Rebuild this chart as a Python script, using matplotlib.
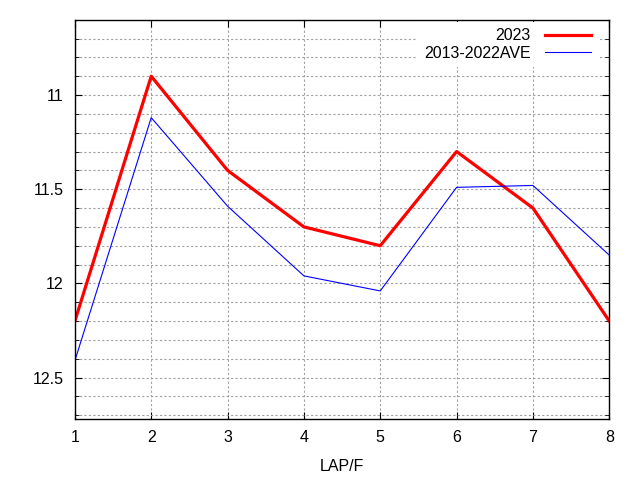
import matplotlib
matplotlib.use("Agg")
import matplotlib.pyplot as plt
from matplotlib.ticker import MultipleLocator

plt.rcParams['font.family'] = ['Liberation Sans', 'DejaVu Sans']

# lap data (seconds per furlong)
laps = [1, 2, 3, 4, 5, 6, 7, 8]
y2023 = [12.2, 10.9, 11.4, 11.7, 11.8, 11.3, 11.6, 12.2]
yave = [12.41, 11.12, 11.59, 11.96, 12.04, 11.49, 11.48, 11.85]

fig = plt.figure(figsize=(6.4, 4.8), dpi=100)
ax = fig.add_axes([0.117, 0.127, 0.835, 0.832])

ax.plot(laps, y2023, color='#ff0000', linewidth=2.3, label='2023')
ax.plot(laps, yave, color='#0000ff', linewidth=0.8, label='2013-2022AVE')

ax.set_xlim(1, 8)
ax.set_ylim(12.72, 10.6)
ax.xaxis.set_major_locator(MultipleLocator(1))
ax.yaxis.set_major_locator(MultipleLocator(0.5))
ax.yaxis.set_minor_locator(MultipleLocator(0.1))
ax.yaxis.set_major_formatter(plt.FuncFormatter(lambda v, p: '%g' % v))

ax.grid(True, which='both', axis='y', color='#a0a0a0', linestyle=(0, (2, 2)), linewidth=0.8)
ax.grid(True, which='major', axis='x', color='#a0a0a0', linestyle=(0, (2, 2)), linewidth=0.8)
ax.set_axisbelow(True)

ax.tick_params(which='both', direction='in', top=True, right=True, labelsize=11.5, pad=8)
ax.tick_params(which='major', length=5)
ax.tick_params(which='minor', length=3)
for s in ax.spines.values():
    s.set_linewidth(1.0)

ax.set_xlabel('LAP/F', fontsize=11.5, labelpad=10)

# gnuplot-like key: opaque white box, no border, text before sample
leg = ax.legend(loc='upper right', frameon=True, markerfirst=False,
                fontsize=11.5, handlelength=2.9, labelspacing=0.15,
                borderaxespad=0.0, borderpad=0.4, handletextpad=0.9,
                fancybox=False, framealpha=1.0)
leg.get_frame().set_edgecolor('none')
leg.get_frame().set_facecolor('white')
leg.set_bbox_to_anchor((0.978, 0.994), transform=ax.transAxes)

fig.savefig('out.png', dpi=100)
